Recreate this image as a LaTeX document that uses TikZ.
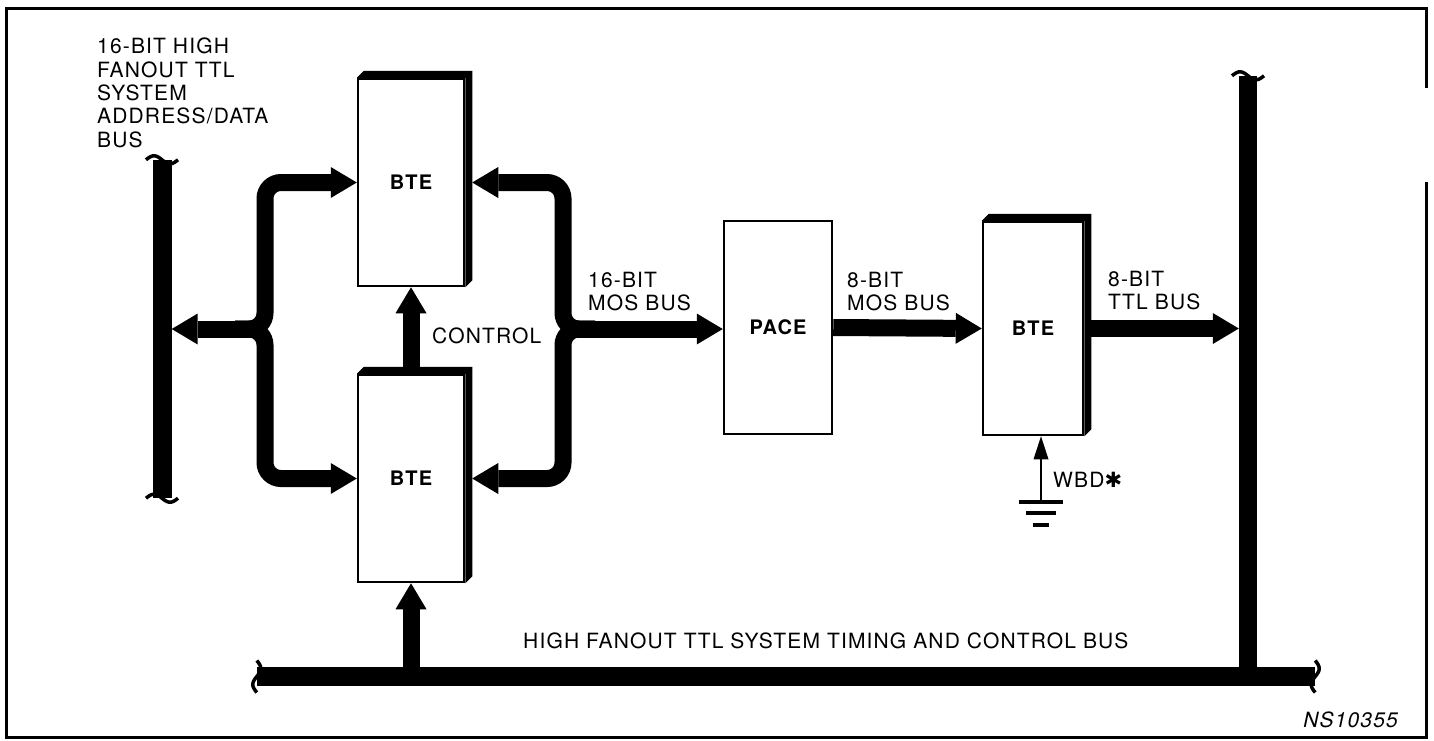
\documentclass[tikz,border=0pt]{standalone}
\usepackage{fontspec}
\setmainfont{TeX Gyre Heros}[LetterSpace=5.5]
\newfontfamily\symfont{DejaVu Sans}
\usetikzlibrary{arrows.meta,calc}

\begin{document}
\begin{tikzpicture}[
  x=1pt,y=-1pt,
  font=\fontsize{21}{23.3}\selectfont,
  bustip/.tip={Triangle[width=31pt 0,length=26pt 0,line width=0pt]},
  sigtip/.tip={Triangle[width=15pt 0,length=23pt 0,line width=0pt]},
  btebox/.style={draw,line width=2.5pt,fill=white,minimum width=106pt,minimum height=207pt,
    font=\fontsize{20}{23}\selectfont\bfseries},
  busbar/.style={fill=black,inner sep=0pt},
  busarrow/.style={line width=17pt,arrows={-bustip}},
  buswire/.style={line width=17pt,rounded corners=16pt,arrows={-bustip}},
  sigarrow/.style={line width=2.5pt,arrows={-sigtip}},
  gndbar/.style={line width=4pt},
  breakmark/.style={line width=3.5pt},
  lbl/.style={inner sep=0pt,align=left,anchor=north west}
]
\useasboundingbox (0,0) rectangle (1434,740);
\draw[line width=3pt] (1426,88) -- (1426,8) -- (6,8) -- (6,737) -- (1426,737) -- (1426,182);

% blocks
\node[btebox] (bteA) at (411,182.5) {BTE};
\node[btebox] (bteB) at (411,478.5) {BTE};
\node[btebox,minimum width=108pt,minimum height=213pt] (pace) at (778,327.5) {PACE};
\node[btebox,minimum width=100pt,minimum height=213pt] (bteC) at (1033,328.5) {BTE};
\foreach \b in {bteA,bteB,bteC}
  \fill (\b.north west) -- ++(7,-7) -| ($(\b.south east)+(7,-7)$) -- (\b.south east) -- (\b.north east) -- cycle;

% buses
\node[busbar,minimum width=19pt,minimum height=338pt] (busAD) at (162,329) {};
\node[busbar,minimum width=18pt,minimum height=610pt] (busR) at (1248,381) {};
\node[busbar,minimum width=1058pt,minimum height=19pt] (busT) at (786,676.5) {};
\foreach \p/\r in {busAD.north/0,busAD.south/0,busR.north/0,busT.west/90,busT.east/90}
  \draw[breakmark,shift={(\p)},rotate=\r] plot[domain=-16:16,samples=30] (\x,{4*sin(\x*11.25)});

% brackets
\coordinate (lbrk) at (265,329);
\coordinate (ljoin) at (235,329);
\coordinate (rbrk) at (563,329);
\coordinate (rjoin) at (595,329);
\foreach \b in {bteA,bteB} {
  \draw[buswire] (ljoin) -- (lbrk) |- (\b.west);
  \draw[buswire] (rjoin) -- (rbrk) |- ([xshift=7pt]\b.east);
}
\draw[busarrow] (lbrk) -- (lbrk -| busAD.east);
\draw[busarrow] (rbrk) -- (rbrk -| pace.west);
\draw[busarrow] (bteB.north) -- (bteA.south);
\draw[busarrow] (busT.north -| bteB.south) -- (bteB.south);
\draw[busarrow] (pace.east) -- (bteC.west);
\draw[busarrow] ([xshift=7pt]bteC.east) -- (bteC.east -| busR.west);

% strap to ground
\coordinate (gnd) at (1041,502);
\draw[sigarrow] (gnd) -- (gnd |- bteC.south);
\foreach \w/\dy in {22/0,15/11,8/23}
  \draw[gndbar] ([shift={(-\w,\dy)}]gnd) -- ([shift={(\w,\dy)}]gnd);

% labels
\node[lbl] (adlbl) at (97,38) {16-BIT HIGH\\FANOUT TTL\\SYSTEM\\ADDRESS/DATA\\BUS};
\node[lbl] (ctllbl) at (432,328) {CONTROL};
\node[lbl] (mos16lbl) at (588,272) {16-BIT\\MOS BUS};
\node[lbl] (mos8lbl) at (847,272) {8-BIT\\MOS BUS};
\node[lbl] (ttl8lbl) at (1108,271) {8-BIT\\TTL BUS};
\node[lbl] (wbdlbl) at (1053,472) {WBD{\symfont ✱}};
\node[lbl] (timlbl) at (523,633) {HIGH FANOUT TTL SYSTEM TIMING AND CONTROL BUS};
\node[inner sep=0pt,anchor=north east,font=\fontsize{21}{23}\selectfont\itshape] (figno) at (1398,712) {NS10355};
\end{tikzpicture}
\end{document}
